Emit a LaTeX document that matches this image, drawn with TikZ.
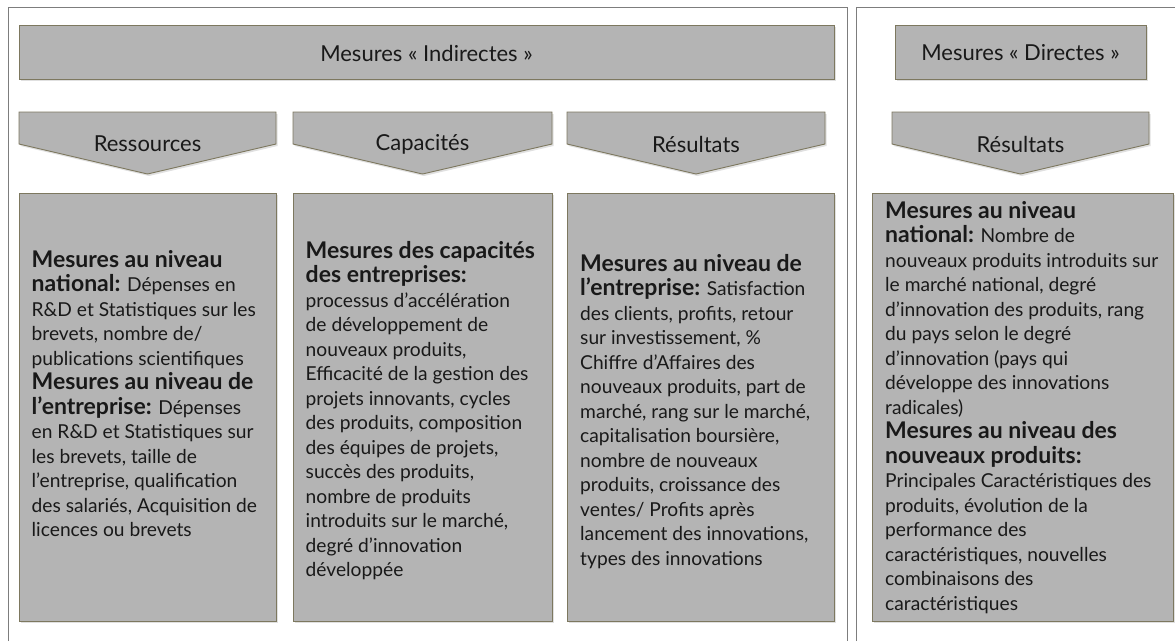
\documentclass[tikz,border=0pt]{standalone}
\usepackage{fontspec}
\setmainfont{Lato}
\definecolor{boxfill}{RGB}{180,180,180}
\definecolor{boxline}{RGB}{125,120,95}
\definecolor{framec}{RGB}{125,125,125}
\definecolor{txt}{RGB}{25,25,25}
\newcommand{\hd}[1]{{\fontsize{23}{24.5}\selectfont\bfseries #1}}
\begin{document}
\begin{tikzpicture}[x=1pt,y=-1pt,
  panel/.style={fill=boxfill, draw=boxline, line width=0.9pt},
  shade/.style={fill=black!12},
  frame/.style={draw=framec, line width=1pt},
  headtxt/.style={font=\fontsize{22}{26}\selectfont, text=txt, inner sep=0pt},
  bodytxt/.style={font=\fontsize{19.2}{24.5}\selectfont, text=txt, align=left, anchor=north west, inner sep=0pt}
]
\useasboundingbox (0,0) rectangle (1175,641);
% frames
\draw[frame] (8,641) -- (8,7) -- (847,7) -- (847,641);
\draw[frame] (856,641) -- (856,7) -- (1175,7);

% headers
\fill[shade] (20.5,27) rectangle (835.5,81);
\draw[panel] (19,25) rectangle (834,79);
\node[headtxt] (hind) at (426.5,53) {Mesures « Indirectes »};
\fill[shade] (896.5,27) rectangle (1147.5,81);
\draw[panel] (895,25) rectangle (1146,79);
\node[headtxt] (hdir) at (1020.5,53) {Mesures « Directes »};

% chevrons
\foreach \xa/\xb [evaluate=\xa as \xm using (\xa+\xb)/2] in {19/276, 293/552, 567/825, 892/1149}{
  \fill[shade] (\xa+1.5,114) -- (\xb+1.5,114) -- (\xb+1.5,146) -- (\xm+1.5,176) -- (\xa+1.5,146) -- cycle;
  \draw[panel] (\xa,112) -- (\xb,112) -- (\xb,144) -- (\xm,174) -- (\xa,144) -- cycle;
}
\node[headtxt] (cres) at (147.5,144) {Ressources};
\node[headtxt] (ccap) at (422.5,144) {Capacités};
\node[headtxt] (cresu) at (696,144) {Résultats};
\node[headtxt] (cdir) at (1020.5,144) {Résultats};

% text boxes
\foreach \xa/\xb in {19/276, 293/552, 567/834, 872/1173}{
  \fill[shade] (\xa+1.5,195) rectangle (\xb+1.5,623);
  \draw[panel] (\xa,193) rectangle (\xb,621);
}

\node[bodytxt] (tres) at (31.5,250) {\hd{Mesures au niveau}\\
\hd{national:} Dépenses en\\
R\&D et Statistiques sur les\\
brevets, nombre de/\\
publications scientifiques\\
\hd{Mesures au niveau de}\\
\hd{l’entreprise:} Dépenses\\
en R\&D et Statistiques sur\\
les brevets, taille de\\
l’entreprise, qualification\\
des salariés, Acquisition de\\
licences ou brevets};

\node[bodytxt] (tcap) at (305.5,241) {\hd{Mesures des capacités}\\
\hd{des entreprises:}\\
processus d’accélération\\
de développement de\\
nouveaux produits,\\
Efficacité de la gestion des\\
projets innovants, cycles\\
des produits, composition\\
des équipes de projets,\\
succès des produits,\\
nombre de produits\\
introduits sur le marché,\\
degré d’innovation\\
développée};

\node[bodytxt] (tresu) at (580,254) {\hd{Mesures au niveau de}\\
\hd{l’entreprise:} Satisfaction\\
des clients, profits, retour\\
sur investissement, \%\\
Chiffre d’Affaires des\\
nouveaux produits, part de\\
marché, rang sur le marché,\\
capitalisation boursière,\\
nombre de nouveaux\\
produits, croissance des\\
ventes/ Profits après\\
lancement des innovations,\\
types des innovations};

\node[bodytxt] (tdir) at (885,201) {\hd{Mesures au niveau}\\
\hd{national:} Nombre de\\
nouveaux produits introduits sur\\
le marché national, degré\\
d’innovation des produits, rang\\
du pays selon le degré\\
d’innovation (pays qui\\
développe des innovations\\
radicales)\\
\hd{Mesures au niveau des}\\
\hd{nouveaux produits:}\\
Principales Caractéristiques des\\
produits, évolution de la\\
performance des\\
caractéristiques, nouvelles\\
combinaisons des\\
caractéristiques};
\end{tikzpicture}
\end{document}
